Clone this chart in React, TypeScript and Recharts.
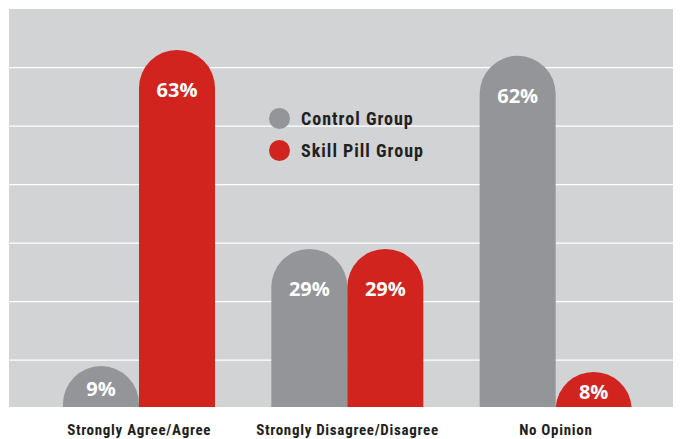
import React from 'react';
import { BarChart, Bar, XAxis, YAxis, CartesianGrid, Legend, LabelList } from 'recharts';

const categories = ['Strongly Agree/Agree', 'Strongly Disagree/Disagree', 'No Opinion'];
const controlGroup = [9, 29, 62];
const skillPillGroup = [63, 29, 8];
const gridValues = [10, 20, 30, 40, 50, 60];

const data = categories.map((name, i) => ({
  name,
  control: controlGroup[i],
  skill: skillPillGroup[i],
}));

const GRAY = '#939598';
const RED = '#d1241e';
const BG = '#d1d3d4';
const TEXT = '#231f20';
const NARROW = '"Liberation Sans Narrow", "Arial Narrow", "Roboto Condensed", Roboto, sans-serif';
const PLOT_BOTTOM = 399;

// bar with a fully rounded top, cut off at the bottom of the plot
function PillBar(props: any) {
  const { x, y, width, height, fill } = props;
  if (!width || height <= 0) return null;
  const r = width / 2;
  const b = y + height;
  let d: string;
  if (height >= r) {
    d = `M${x},${b} L${x},${y + r} A${r},${r} 0 0 1 ${x + width},${y + r} L${x + width},${b} Z`;
  } else {
    const hw = Math.sqrt(r * r - (r - height) * (r - height));
    const cx = x + r;
    d = `M${cx - hw},${b} A${r},${r} 0 0 1 ${cx + hw},${b} Z`;
  }
  return <path d={d} fill={fill} />;
}

function ValueLabel(props: any) {
  const { x, y, width, value } = props;
  const h = PLOT_BOTTOM - y;
  const off = Math.min(40, h / 2 + 2);
  return (
    <text
      x={x + width / 2}
      y={y + off}
      textAnchor="middle"
      dominantBaseline="central"
      fill="#fff"
      fontFamily='"Open Sans", sans-serif'
      fontWeight={700}
      fontSize={20}
    >
      {value}%
    </text>
  );
}

function LegendContent(props: any) {
  const { payload } = props;
  return (
    <div>
      {(payload || []).map((entry: any) => (
        <div key={entry.value} style={{ display: 'flex', alignItems: 'center', height: 32.5 }}>
          <span
            style={{
              width: 21,
              height: 21,
              borderRadius: '50%',
              background: entry.color,
              marginRight: 11,
              display: 'inline-block',
            }}
          />
          <span
            style={{ fontFamily: NARROW, fontWeight: 700, fontSize: 18, letterSpacing: 1, color: TEXT }}
          >
            {entry.value}
          </span>
        </div>
      ))}
    </div>
  );
}

export default function App() {
  return (
    <BarChart
      width={673}
      height={431}
      data={data}
      margin={{ top: 1, right: 0, left: 1, bottom: 0 }}
      barGap={0}
      barSize={76}
    >
      <CartesianGrid
        vertical={false}
        fill={BG}
        stroke="#fff"
        strokeWidth={1.3}
        horizontalValues={gridValues}
      />
      <XAxis
        dataKey="name"
        height={32}
        axisLine={false}
        tickLine={false}
        tickMargin={11}
        padding={{ left: 26, right: 21 }}
        tick={{ fontFamily: NARROW, fontWeight: 700, fontSize: 15, fill: TEXT, letterSpacing: 0.7 }}
        interval={0}
      />
      <YAxis hide domain={[2, 70]} ticks={gridValues} />
      <Legend
        layout="vertical"
        align="center"
        verticalAlign="middle"
        content={LegendContent}
        wrapperStyle={{ position: 'absolute', left: 261, top: 94, width: 'auto' }}
      />
      <Bar dataKey="control" name="Control Group" fill={GRAY} shape={PillBar} isAnimationActive={false}>
        <LabelList dataKey="control" content={ValueLabel} />
      </Bar>
      <Bar dataKey="skill" name="Skill Pill Group" fill={RED} shape={PillBar} isAnimationActive={false}>
        <LabelList dataKey="skill" content={ValueLabel} />
      </Bar>
    </BarChart>
  );
}
